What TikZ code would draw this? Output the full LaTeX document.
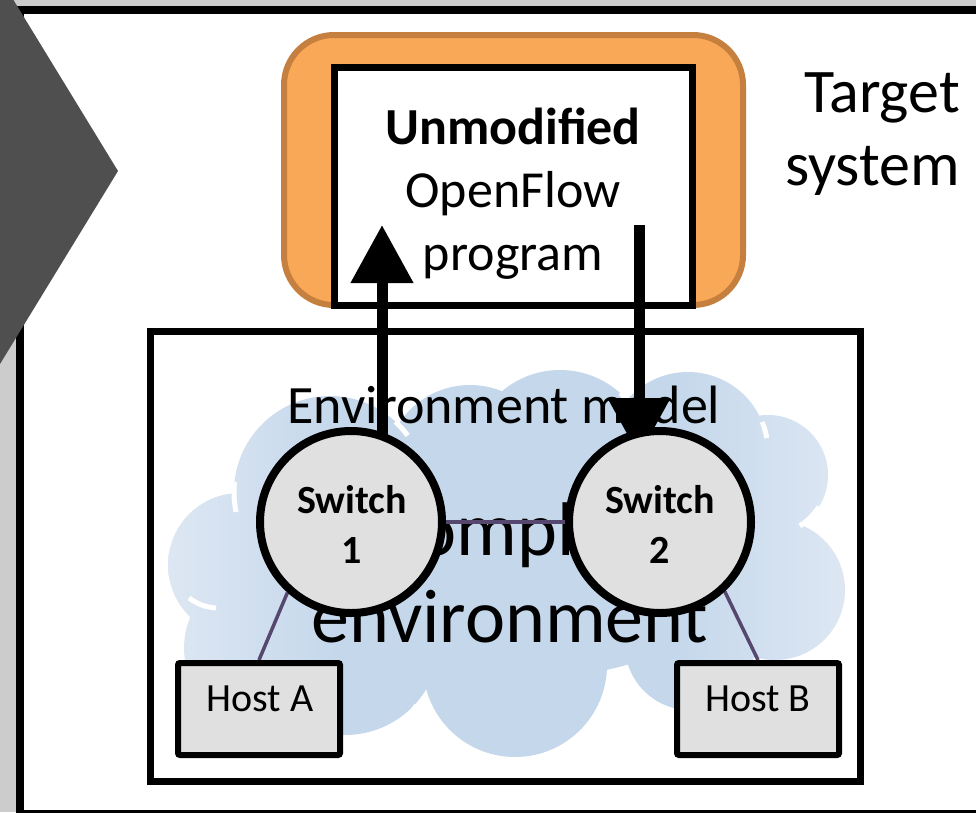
\documentclass[tikz,border=0pt]{standalone}
\usepackage{fontspec}
\setmainfont{Carlito}
\usetikzlibrary{arrows.meta}
\pgfdeclarelayer{back}
\pgfdeclarelayer{front}
\pgfsetlayers{back,main,front}
\definecolor{pagegray}{HTML}{CCCCCC}
\definecolor{chevgray}{HTML}{4F4F4F}
\definecolor{orangefill}{HTML}{F9A857}
\definecolor{orangeline}{HTML}{C5803F}
\definecolor{boxgray}{HTML}{E0E0E0}
\definecolor{linkpurple}{HTML}{55476E}
\definecolor{cloudmid}{HTML}{C4D7EB}
\definecolor{cloudedge}{HTML}{DDE7F3}
\pgfdeclarehorizontalshading{cloudshade}{100bp}{color(0bp)=(cloudedge); color(25bp)=(cloudedge); color(38bp)=(cloudmid); color(62bp)=(cloudmid); color(75bp)=(cloudedge); color(100bp)=(cloudedge)}
\begin{document}
\begin{tikzpicture}[x=1pt,y=-1pt,
  framebox/.style={draw=black, line width=8pt, fill=white},
  progbox/.style={draw=black, line width=7pt, fill=white, minimum width=358pt, minimum height=238pt, inner sep=0pt},
  envbox/.style={draw=black, line width=7pt, minimum width=710pt, minimum height=450pt, inner sep=0pt},
  switchnode/.style={circle, draw=black, line width=8pt, fill=boxgray, minimum size=182pt, inner sep=0pt},
  hostnode/.style={draw=black, line width=6pt, fill=boxgray, rounded corners=2pt, minimum width=162pt, minimum height=92pt, inner sep=0pt},
  wire/.style={draw=linkpurple, line width=3.5pt},
  bigarrow/.style={draw=black, line width=11pt, -{Triangle[length=58pt,width=60pt]}},
  cloudarc/.style={draw=white, line width=5pt},
  progfont/.style={font=\fontsize{52}{63}\selectfont, inner sep=0pt, anchor=base},
  targetfont/.style={font=\fontsize{62}{73}\selectfont, inner sep=0pt, anchor=base east},
  envfont/.style={font=\fontsize{54}{63}\selectfont, inner sep=0pt, anchor=base},
  complexfont/.style={font=\fontsize{76}{87}\selectfont, inner sep=0pt, anchor=base},
  swfont/.style={font=\bfseries\fontsize{40}{50}\selectfont, inner sep=0pt, anchor=base},
  hostfont/.style={font=\fontsize{40}{50}\selectfont, inner sep=0pt, anchor=base},
]
\useasboundingbox (0,0) rectangle (976,812);
\clip (0,0) rectangle (976,812);

\begin{pgfonlayer}{back}
% page background and frame
\fill[pagegray] (0,0) rectangle (976,812);
\draw[framebox] (20,10) rectangle (1010,814);
\fill[chevgray] (0,-22) -- (118,171) -- (0,364) -- cycle;

% target system: orange rounded panel with the program box
\draw[draw=orangeline, fill=orangefill, line width=6pt, rounded corners=50pt] (284,35) rectangle (743,305);
\node[progbox] (prog) at (513,186) {};
\node[progfont] (progl1) at (513,144) {\bfseries Unmodified};
\node[progfont] (progl2) at (513,207) {OpenFlow};
\node[progfont] (progl3) at (513,270) {program};
\node[targetfont] (tgt1) at (960,112) {Target};
\node[targetfont] (tgt2) at (960,185) {system};

% environment model box
\node[envbox] (env) at (505,556) {};

% cloud
\shade[shading=cloudshade]
  (240,565) circle[radius=72]
  (262,648) circle[radius=78]
  (330,492) circle[radius=96]
  (470,470) circle[radius=85]
  (560,460) circle[radius=90]
  (688,452) circle[radius=80]
  (768,475) circle[radius=60]
  (775,590) circle[radius=70]
  (690,645) circle[radius=65]
  (515,665) circle[radius=92]
  (345,640) circle[radius=95]
  (510,560) ellipse[x radius=240, y radius=120];
\draw[cloudarc] (330,492) ++(168:96) arc[start angle=168, end angle=186, radius=96];
\draw[cloudarc] (330,492) ++(-47:96) arc[start angle=-47, end angle=-36, radius=96];
\draw[cloudarc] (560,460) ++(-48:90) arc[start angle=-48, end angle=-38, radius=90];
\draw[cloudarc] (688,452) ++(-22:80) arc[start angle=-22, end angle=-10, radius=80];
\draw[cloudarc] (768,475) ++(32:60) arc[start angle=32, end angle=58, radius=60];
\draw[cloudarc] (617,682) to[bend left=15] (622,701);
\draw[cloudarc] (413,706) to[bend left=15] (428,724);
\draw[cloudarc] (189,598) to[bend right=15] (216,608);

\node[complexfont] (cx1) at (510,555) {Complex};
\node[complexfont] (cx2) at (510,642) {environment};
\node[envfont] (envlabel) at (504,423) {Environment model};
\end{pgfonlayer}

% switches and hosts sit above the wires and arrows
\begin{pgfonlayer}{front}
\node[switchnode] (sw1) at (351,522) {};
\node[switchnode] (sw2) at (660,522) {};
\node[swfont] (sw1a) at (352,513) {Switch};
\node[swfont] (sw1b) at (352,563) {1};
\node[swfont] (sw2a) at (660,513) {Switch};
\node[swfont] (sw2b) at (660,563) {2};
\node[hostnode] (hostA) at (259,709) {};
\node[hostnode] (hostB) at (758,709) {};
\node[hostfont] (hostAl) at (260,711) {Host A};
\node[hostfont] (hostBl) at (758,711) {Host B};
\end{pgfonlayer}

% links
\draw[wire] (sw1) -- (sw2);
\draw[wire] (hostA.north) -- (sw1.228);
\draw[wire] (hostB.north) -- (sw2.313);

% control arrows between the program and the switches
\coordinate (uptip) at (382,225);
\coordinate (downtail) at (639,225);
\coordinate (downtip) at (639,456);
\draw[bigarrow] (uptip |- sw1.center) -- (uptip);
\draw[bigarrow] (downtail) -- (downtip);
\end{tikzpicture}
\end{document}
